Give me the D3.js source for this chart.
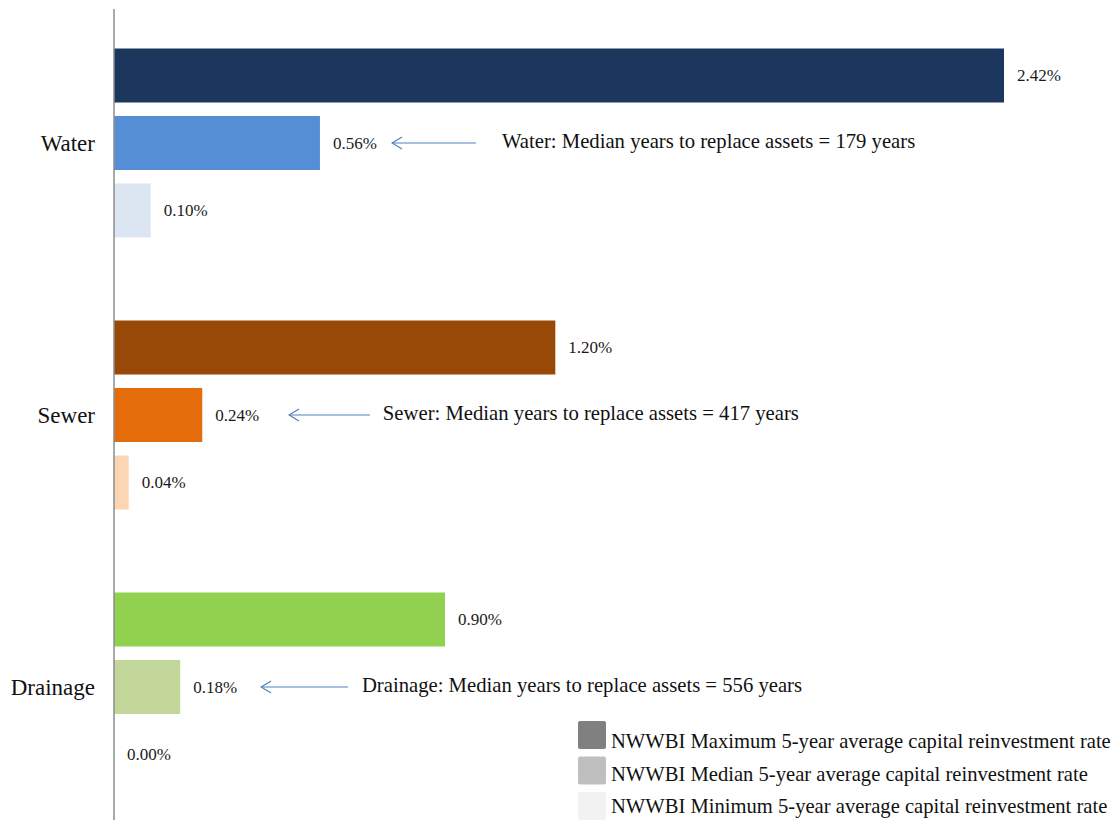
<!DOCTYPE html>
<html>
<head>
<meta charset="utf-8">
<script src="https://cdn.jsdelivr.net/npm/d3@7"></script>
<style>
  body { margin: 0; background: #fff; }
  svg { display: block; font-family: "Liberation Serif", "Times New Roman", serif; }
</style>
</head>
<body>
<svg id="chart" width="1115" height="820"></svg>
<script>
// --- data ---
const categories = ["Water", "Sewer", "Drainage"];
const levels = ["Maximum", "Median", "Minimum"];
const maxValues = [2.42, 1.20, 0.90];
const medianValues = [0.56, 0.24, 0.18];
const minValues = [0.10, 0.04, 0.00];
const barColors = [
  ["#1b375e", "#558ed5", "#dce6f2"],
  ["#984807", "#e46c0a", "#fcd5b5"],
  ["#92d050", "#c4d79b", "#ebf1de"]
];
const legendLabels = [
  "NWWBI Maximum 5-year average capital reinvestment rate",
  "NWWBI Median 5-year average capital reinvestment rate",
  "NWWBI Minimum 5-year average capital reinvestment rate"
];
const legendColors = ["#808080", "#bfbfbf", "#f2f2f2"];
const medianYears = [179, 417, 556];
// arrow head / tail / text start, in percent units
const arrowHead = [0.756, 0.476, 0.40];
const arrowTail = [0.984, 0.696, 0.636];
const noteStart = [1.055, 0.731, 0.674];

// --- setup ---
const svg = d3.select("#chart");
const x0 = 114;
const x = d3.scaleLinear().domain([0, 2.42]).range([x0, 1004]);
const yGroup = d3.scaleBand().domain(categories).range([7, 823]).paddingInner(0).paddingOuter(0);
const yBar = d3.scaleBand().domain(levels).range([0, yGroup.bandwidth()]).paddingInner(0.2).paddingOuter(0.615);

const rows = [];
categories.forEach((c, i) => {
  [maxValues[i], medianValues[i], minValues[i]].forEach((v, j) => {
    rows.push({ cat: c, level: levels[j], value: v, color: barColors[i][j] });
  });
});

// open arrow head pointing along the line direction
svg.append("defs").append("marker")
  .attr("id", "arrow")
  .attr("viewBox", "0 0 12 14")
  .attr("refX", 11).attr("refY", 7)
  .attr("markerWidth", 12).attr("markerHeight", 14)
  .attr("markerUnits", "userSpaceOnUse")
  .attr("orient", "auto")
  .append("path")
  .attr("d", "M1,1 L11,7 L1,13")
  .attr("fill", "none")
  .attr("stroke", "#4f81bd")
  .attr("stroke-width", 1.2);

// bars
svg.selectAll("rect.bar")
  .data(rows)
  .enter().append("rect")
  .attr("class", "bar")
  .attr("x", x(0))
  .attr("y", d => yGroup(d.cat) + yBar(d.level))
  .attr("width", d => x(d.value) - x(0))
  .attr("height", yBar.bandwidth())
  .attr("fill", d => d.color);

// value labels
svg.selectAll("text.val")
  .data(rows)
  .enter().append("text")
  .attr("class", "val")
  .attr("x", d => x(d.value) + 13)
  .attr("y", d => yGroup(d.cat) + yBar(d.level) + yBar.bandwidth() / 2)
  .attr("dominant-baseline", "central")
  .attr("font-size", 17)
  .attr("fill", "#1a1a1a")
  .text(d => d3.format(".2f")(d.value) + "%");

// axis line
svg.append("line")
  .attr("x1", x0).attr("x2", x0)
  .attr("y1", 9).attr("y2", 820)
  .attr("stroke", "#8c8c8c").attr("stroke-width", 1.5);

// category labels
svg.selectAll("text.cat")
  .data(categories)
  .enter().append("text")
  .attr("class", "cat")
  .attr("x", 95)
  .attr("y", d => yGroup(d) + yGroup.bandwidth() / 2)
  .attr("text-anchor", "end")
  .attr("dominant-baseline", "central")
  .attr("font-size", 23)
  .attr("fill", "#111")
  .text(d => d);

// annotations
categories.forEach((c, i) => {
  const yc = yGroup(c) + yBar("Median") + yBar.bandwidth() / 2;
  svg.append("line")
    .attr("x1", x(arrowTail[i])).attr("x2", x(arrowHead[i]))
    .attr("y1", yc).attr("y2", yc)
    .attr("stroke", "#4f81bd").attr("stroke-width", 1.2)
    .attr("marker-end", "url(#arrow)");
  svg.append("text")
    .attr("x", x(noteStart[i]))
    .attr("y", yc - 2)
    .attr("dominant-baseline", "central")
    .attr("font-size", 20.7)
    .attr("fill", "#111")
    .text(`${c}: Median years to replace assets = ${medianYears[i]} years`);
});

// legend
const legend = svg.append("g").attr("transform", "translate(578,721)");
legendLabels.forEach((l, i) => {
  const g = legend.append("g").attr("transform", `translate(0,${i * 35.5})`);
  g.append("rect").attr("width", 28).attr("height", 28).attr("rx", 2)
    .attr("fill", legendColors[i]);
  g.append("text")
    .attr("x", 33).attr("y", 27 - i * 3)
    .attr("font-size", 20.6)
    .attr("fill", "#111")
    .text(l);
});
</script>
</body>
</html>
